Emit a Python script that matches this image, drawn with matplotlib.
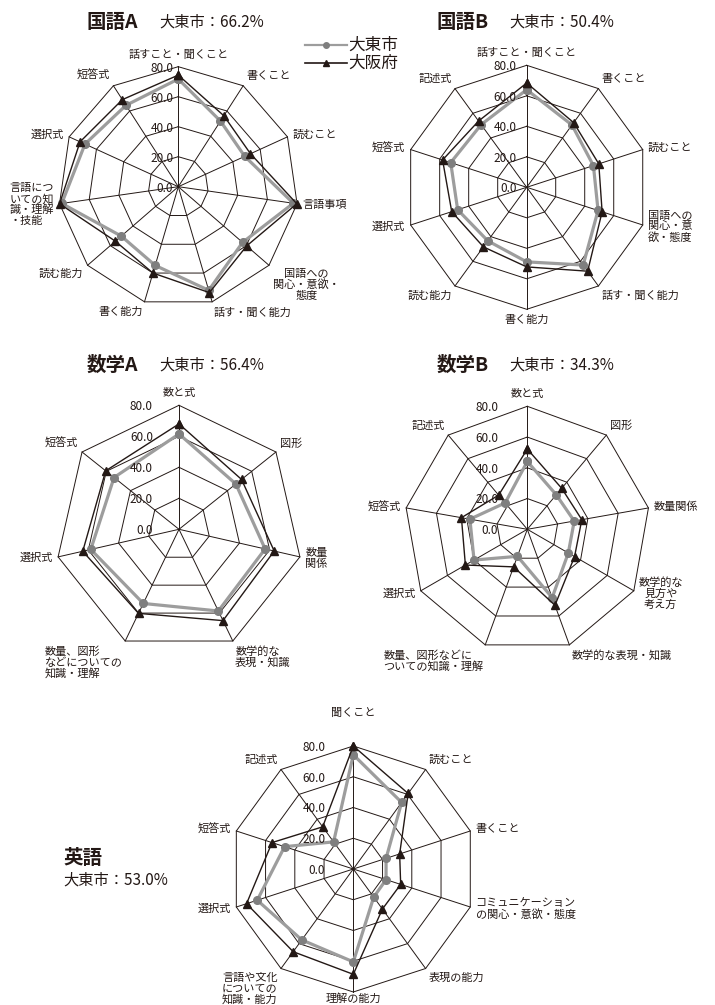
import numpy as np
import matplotlib
matplotlib.use('Agg')
import matplotlib.pyplot as plt

plt.rcParams['font.family'] = ['Noto Sans CJK JP', 'DejaVu Sans']

# ---- data ----
kokugo_a_labels = ['話すこと・聞くこと', '書くこと', '読むこと', '言語事項',
                   '国語への\n関心・意欲・\n態度', '話す・聞く能力', '書く能力', '読む能力',
                   '言語につ\nいての知\n識・理解\n・技能', '選択式', '短答式']
kokugo_a_city = [71.8, 52.0, 48.7, 77.5, 56.7, 72.0, 54.7, 50.3, 78.5, 68.4, 64.5]
kokugo_a_pref = [74.4, 56.2, 52.9, 79.8, 60.3, 73.6, 60.0, 55.5, 80.0, 72.0, 69.0]

kokugo_b_labels = ['話すこと・聞くこと', '書くこと', '読むこと', '国語への\n関心・意\n欲・態度',
                   '話す・聞く能力', '書く能力', '読む能力', '選択式', '短答式', '記述式']
kokugo_b_city = [64.0, 50.5, 46.0, 49.2, 63.0, 48.9, 43.4, 47.6, 52.4, 50.8]
kokugo_b_pref = [68.4, 52.4, 49.7, 52.0, 68.0, 52.2, 48.3, 51.7, 58.0, 53.7]

sugaku_a_labels = ['数と式', '図形', '数量\n関係', '数学的な\n表現・知識',
                   '数量、図形\nなどについての\n知識・理解', '選択式', '短答式']
sugaku_a_city = [61.5, 46.9, 57.0, 58.5, 53.1, 58.4, 53.6]
sugaku_a_pref = [68.0, 51.6, 63.0, 65.4, 60.2, 63.7, 60.5]

sugaku_b_labels = ['数と式', '図形', '数量関係', '数学的な\n見方や\n考え方', '数学的な表現・知識',
                   '数量、図形などに\nついての知識・理解', '選択式', '短答式', '記述式']
sugaku_b_city = [44.1, 29.3, 31.0, 30.8, 47.3, 18.7, 40.0, 37.9, 22.4]
sugaku_b_pref = [52.2, 34.8, 36.0, 35.5, 52.6, 26.0, 46.5, 43.5, 29.0]

eigo_labels = ['聞くこと', '読むこと', '書くこと', 'コミュニケーション\nの関心・意欲・態度',
               '表現の能力', '理解の能力', '言語や文化\nについての\n知識・能力', '選択式', '短答式', '記述式']
eigo_city = [74.3, 53.5, 22.4, 22.4, 22.6, 60.4, 57.0, 65.7, 47.0, 21.8]
eigo_pref = [80.0, 60.7, 31.7, 32.4, 32.2, 68.5, 66.5, 73.0, 55.6, 33.9]

subjects = ['国語A', '国語B', '数学A', '数学B', '英語']
city_rates = ['66.2%', '50.4%', '56.4%', '34.3%', '53.0%']
ticks = [0, 20, 40, 60, 80]

W, H = 715, 1005
INK = '#231815'
GRAY_LINE = '#9d9d9d'
GRAY_MARK = '#7f7f7f'

fig = plt.figure(figsize=(W / 100, H / 100), dpi=100)


def radar(cx, cy, R, labels, city, pref, tick_off, top_pad=5, bottom_pad=4):
    ax = fig.add_axes([(cx - R) / W, 1 - (cy + R) / H, 2 * R / W, 2 * R / H],
                      projection='polar')
    ax.set_theta_offset(np.pi / 2)
    ax.set_theta_direction(-1)
    ax.set_ylim(0, 80)
    ax.set_axis_off()
    n = len(labels)
    th = np.linspace(0, 2 * np.pi, n, endpoint=False)
    thc = np.append(th, th[0])
    for r in ticks[1:]:
        ax.plot(thc, [r] * (n + 1), color=INK, lw=0.7, clip_on=False)
    for t in th:
        ax.plot([t, t], [0, 80], color=INK, lw=0.7, clip_on=False)
    ax.plot(thc, list(city) + [city[0]], color=GRAY_LINE, lw=2.3,
            marker='o', ms=5.5, mfc=GRAY_MARK, mec=GRAY_MARK, clip_on=False, zorder=3)
    ax.plot(thc, list(pref) + [pref[0]], color=INK, lw=1.0,
            marker='^', ms=6, mfc=INK, mec=INK, clip_on=False, zorder=4)
    for v in ticks:
        ax.annotate(f'{v:.1f}', xy=(0, v), xytext=(-tick_off * 0.72, -1),
                    textcoords='offset points', ha='right', va='center',
                    fontsize=8.5, color=INK)
    for t, lab in zip(th, labels):
        ang = np.pi / 2 - t
        c, s = np.cos(ang), np.sin(ang)
        ha = 'center' if abs(c) < 0.15 else ('left' if c > 0 else 'right')
        va = 'bottom' if s > 0.55 else ('top' if s < -0.55 else 'center')
        pad = top_pad if s > 0.95 else (bottom_pad if s < -0.95 else 4)
        ma = 'center' if ha == 'left' and lab.count('\n') >= 2 and c < 0.9 else 'left'
        ax.annotate(lab, xy=(t, 80), xytext=(pad * c, pad * s),
                    textcoords='offset points', ha=ha, va=va, fontsize=8,
                    color=INK, linespacing=1.05, multialignment=ma)
    return ax


radar(178.3, 186.7, 120, kokugo_a_labels, kokugo_a_city, kokugo_a_pref, 5)
radar(526.7, 187.3, 122, kokugo_b_labels, kokugo_b_city, kokugo_b_pref, 10)
radar(179, 529.3, 124, sugaku_a_labels, sugaku_a_city, sugaku_a_pref, 26)
radar(527.3, 529.3, 123, sugaku_b_labels, sugaku_b_city, sugaku_b_pref, 29)
radar(353.3, 869, 123, eigo_labels, eigo_city, eigo_pref, 28, top_pad=20, bottom_pad=0.5)

# titles
title_pos = [(87, 22), (437, 22), (87, 365), (437, 365)]
for (x, y), subj, rate in zip(title_pos, subjects[:4], city_rates[:4]):
    fig.text(x / W, 1 - y / H, subj, fontsize=14, fontweight='bold',
             ha='left', va='center', color=INK)
    fig.text((x + 72) / W, 1 - y / H, '大東市：' + rate, fontsize=11,
             ha='left', va='center', color=INK)
fig.text(63 / W, 1 - 858 / H, subjects[4], fontsize=14, fontweight='bold',
         ha='left', va='center', color=INK)
fig.text(63 / W, 1 - 880 / H, '大東市：' + city_rates[4], fontsize=11,
         ha='left', va='center', color=INK)

# legend
lg = fig.add_axes([300 / W, 1 - 75 / H, 110 / W, 40 / H])
lg.set_xlim(0, 110)
lg.set_ylim(40, 0)
lg.set_axis_off()
lg.plot([5, 47], [10, 10], color=GRAY_LINE, lw=1.6)
lg.plot([26], [10], 'o', ms=4, color=GRAY_MARK)
lg.plot([5, 47], [28, 28], color=INK, lw=1.2)
lg.plot([26], [28], '^', ms=5, color=INK)
lg.text(48, 10, '大東市', fontsize=12, va='center', ha='left', color=INK)
lg.text(48, 28, '大阪府', fontsize=12, va='center', ha='left', color=INK)

fig.savefig('out.png', dpi=100)
